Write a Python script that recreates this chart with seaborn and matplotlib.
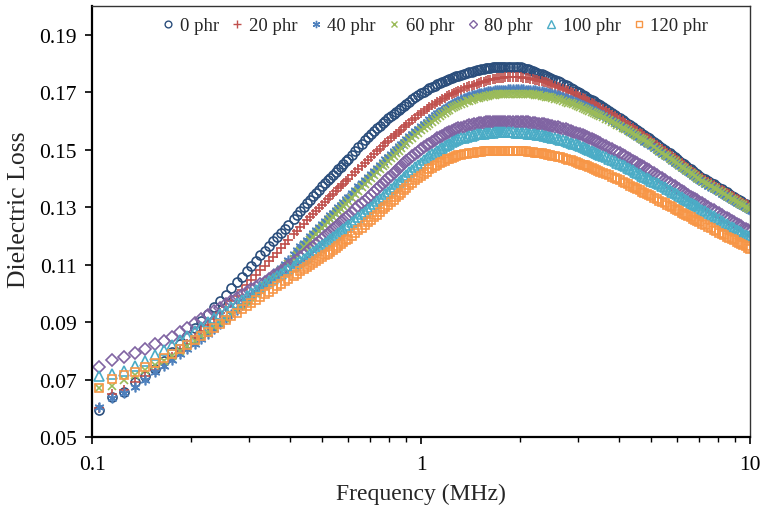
import numpy as np
import matplotlib
matplotlib.use("Agg")
import matplotlib.pyplot as plt
import seaborn as sns
from matplotlib.ticker import FixedLocator, FixedFormatter, NullFormatter

sns.set_style("ticks")
plt.rcParams["font.family"] = ["Liberation Serif", "DejaVu Serif"]

# Measurement frequencies (MHz)
FREQ_MHZ = [0.105, 0.115, 0.125, 0.135, 0.145, 0.155, 0.165, 0.175, 0.185, 0.195,
            0.205, 0.215, 0.225, 0.235, 0.245, 0.255, 0.265, 0.275, 0.285, 0.295,
            0.305, 0.315, 0.325, 0.335, 0.345, 0.355, 0.365, 0.375, 0.385, 0.395,
            0.41, 0.42, 0.43, 0.44, 0.45, 0.46, 0.47, 0.48, 0.49, 0.50,
            0.51, 0.52, 0.53, 0.54, 0.55, 0.56, 0.57, 0.58, 0.59, 0.60,
            0.615, 0.63, 0.645, 0.66, 0.675, 0.69, 0.705, 0.72, 0.735, 0.75,
            0.765, 0.78, 0.795, 0.81, 0.825, 0.84, 0.855, 0.87, 0.885, 0.90,
            0.92, 0.94, 0.96, 0.98, 1.00, 1.02, 1.04, 1.06, 1.08, 1.10,
            1.12, 1.14, 1.16, 1.18, 1.20, 1.22, 1.24, 1.26, 1.28, 1.30,
            1.325, 1.35, 1.375, 1.40, 1.425, 1.45, 1.475, 1.50, 1.525, 1.55,
            1.575, 1.60, 1.625, 1.65, 1.675, 1.70, 1.725, 1.75, 1.775, 1.80,
            1.835, 1.87, 1.905, 1.94, 1.975, 2.01, 2.045, 2.08, 2.115, 2.15,
            2.185, 2.22, 2.255, 2.29, 2.325, 2.36, 2.395, 2.43, 2.465, 2.50,
            2.55, 2.60, 2.65, 2.70, 2.75, 2.80, 2.85, 2.90, 2.95, 3.00,
            3.05, 3.10, 3.15, 3.20, 3.25, 3.30, 3.35, 3.40, 3.45, 3.50,
            3.575, 3.65, 3.725, 3.80, 3.875, 3.95, 4.025, 4.10, 4.175, 4.25,
            4.325, 4.40, 4.475, 4.55, 4.625, 4.70, 4.775, 4.85, 4.925, 5.00,
            5.1, 5.2, 5.3, 5.4, 5.5, 5.6, 5.7, 5.8, 5.9, 6.0,
            6.1, 6.2, 6.3, 6.4, 6.5, 6.6, 6.7, 6.8, 6.9, 7.0,
            7.15, 7.3, 7.45, 7.6, 7.75, 7.9, 8.05, 8.2, 8.35, 8.5,
            8.65, 8.8, 8.95, 9.1, 9.25, 9.4, 9.55, 9.7, 9.85, 10.0]

# Dielectric loss values, in units of 1e-4
LOSS_0 = [593, 640, 656, 690, 712, 738, 765, 795, 823, 852,
          878, 903, 927, 952, 973, 995, 1017, 1038, 1058, 1077,
          1096, 1114, 1132, 1149, 1165, 1181, 1196, 1211, 1225, 1239,
          1259, 1272, 1286, 1300, 1313, 1325, 1338, 1350, 1361, 1372,
          1383, 1393, 1403, 1413, 1423, 1432, 1441, 1450, 1459, 1467,
          1481, 1495, 1508, 1520, 1532, 1543, 1554, 1564, 1574, 1583,
          1592, 1601, 1609, 1617, 1625, 1632, 1639, 1646, 1653, 1659,
          1667, 1675, 1682, 1689, 1696, 1702, 1708, 1713, 1718, 1723,
          1728, 1732, 1736, 1740, 1744, 1747, 1750, 1753, 1756, 1758,
          1761, 1764, 1767, 1769, 1772, 1774, 1776, 1778, 1780, 1781,
          1783, 1784, 1785, 1786, 1787, 1788, 1789, 1789, 1789, 1789,
          1789, 1789, 1789, 1788, 1787, 1786, 1784, 1782, 1780, 1777,
          1774, 1771, 1768, 1765, 1762, 1759, 1756, 1753, 1750, 1747,
          1743, 1738, 1734, 1729, 1725, 1720, 1715, 1710, 1705, 1700,
          1696, 1691, 1686, 1681, 1677, 1672, 1668, 1663, 1659, 1654,
          1648, 1641, 1635, 1628, 1622, 1615, 1609, 1603, 1597, 1591,
          1585, 1579, 1573, 1567, 1562, 1556, 1551, 1545, 1540, 1534,
          1527, 1520, 1513, 1506, 1500, 1493, 1487, 1480, 1474, 1467,
          1461, 1455, 1449, 1443, 1437, 1431, 1426, 1420, 1415, 1409,
          1403, 1397, 1391, 1385, 1379, 1373, 1368, 1362, 1357, 1351,
          1346, 1340, 1335, 1330, 1325, 1320, 1316, 1311, 1307, 1302]

LOSS_20 = [600, 648, 662, 693, 712, 732, 754, 777, 800, 823,
           846, 868, 890, 911, 932, 952, 972, 991, 1010, 1028,
           1046, 1063, 1080, 1096, 1112, 1127, 1142, 1157, 1171, 1185,
           1205, 1218, 1230, 1242, 1254, 1265, 1276, 1287, 1298, 1308,
           1318, 1328, 1338, 1347, 1356, 1365, 1374, 1382, 1391, 1399,
           1411, 1422, 1433, 1444, 1455, 1465, 1475, 1485, 1495, 1504,
           1513, 1522, 1531, 1539, 1547, 1555, 1563, 1570, 1578, 1585,
           1594, 1603, 1611, 1619, 1627, 1634, 1641, 1648, 1654, 1660,
           1666, 1671, 1676, 1681, 1686, 1690, 1694, 1698, 1702, 1705,
           1709, 1713, 1717, 1720, 1723, 1726, 1729, 1732, 1735, 1737,
           1739, 1741, 1743, 1745, 1747, 1748, 1749, 1750, 1751, 1752,
           1753, 1753, 1753, 1753, 1753, 1752, 1751, 1750, 1749, 1747,
           1746, 1744, 1742, 1740, 1738, 1736, 1734, 1731, 1729, 1726,
           1723, 1719, 1716, 1712, 1708, 1704, 1700, 1696, 1692, 1688,
           1684, 1680, 1676, 1671, 1667, 1662, 1658, 1653, 1649, 1645,
           1640, 1634, 1628, 1622, 1616, 1610, 1605, 1599, 1593, 1587,
           1582, 1576, 1570, 1564, 1559, 1553, 1548, 1542, 1537, 1531,
           1524, 1517, 1510, 1503, 1497, 1490, 1484, 1477, 1471, 1465,
           1459, 1453, 1447, 1441, 1435, 1429, 1424, 1418, 1413, 1407,
           1401, 1395, 1389, 1383, 1377, 1371, 1366, 1360, 1355, 1349,
           1344, 1339, 1334, 1329, 1324, 1319, 1315, 1310, 1306, 1301]

LOSS_40 = [604, 637, 652, 674, 700, 725, 748, 768, 788, 806,
           824, 842, 860, 877, 894, 911, 927, 943, 959, 975,
           990, 1005, 1020, 1034, 1048, 1062, 1076, 1089, 1102, 1115,
           1136, 1150, 1163, 1175, 1187, 1199, 1210, 1221, 1232, 1242,
           1252, 1262, 1272, 1281, 1291, 1300, 1309, 1318, 1327, 1335,
           1348, 1360, 1372, 1384, 1395, 1406, 1417, 1427, 1437, 1447,
           1457, 1466, 1476, 1485, 1494, 1503, 1512, 1520, 1528, 1536,
           1546, 1555, 1564, 1573, 1582, 1590, 1598, 1605, 1612, 1619,
           1626, 1632, 1638, 1643, 1648, 1653, 1658, 1662, 1666, 1670,
           1675, 1679, 1683, 1686, 1689, 1691, 1694, 1696, 1698, 1700,
           1702, 1703, 1704, 1705, 1706, 1707, 1708, 1708, 1709, 1709,
           1710, 1710, 1710, 1710, 1710, 1710, 1710, 1709, 1709, 1708,
           1707, 1706, 1705, 1704, 1703, 1701, 1700, 1698, 1697, 1695,
           1692, 1689, 1686, 1683, 1680, 1677, 1674, 1670, 1667, 1663,
           1660, 1656, 1652, 1648, 1644, 1640, 1636, 1632, 1628, 1624,
           1619, 1613, 1607, 1601, 1595, 1589, 1584, 1578, 1572, 1566,
           1561, 1555, 1550, 1544, 1539, 1533, 1528, 1523, 1518, 1513,
           1506, 1499, 1493, 1486, 1480, 1473, 1467, 1461, 1455, 1449,
           1443, 1437, 1432, 1426, 1421, 1415, 1410, 1404, 1399, 1394,
           1388, 1381, 1375, 1369, 1364, 1358, 1353, 1347, 1342, 1336,
           1331, 1326, 1321, 1316, 1312, 1307, 1303, 1298, 1294, 1290]

LOSS_60 = [670, 678, 700, 717, 732, 749, 766, 783, 800, 817,
           834, 850, 866, 882, 897, 912, 927, 942, 957, 971,
           985, 999, 1013, 1026, 1039, 1052, 1065, 1077, 1089, 1101,
           1121, 1135, 1148, 1160, 1172, 1184, 1195, 1206, 1217, 1227,
           1237, 1247, 1257, 1266, 1276, 1285, 1294, 1303, 1312, 1320,
           1333, 1345, 1357, 1369, 1380, 1391, 1402, 1412, 1422, 1432,
           1442, 1451, 1461, 1470, 1479, 1488, 1497, 1506, 1515, 1523,
           1533, 1542, 1551, 1559, 1567, 1575, 1583, 1590, 1597, 1604,
           1611, 1617, 1623, 1629, 1634, 1639, 1644, 1648, 1652, 1656,
           1660, 1664, 1668, 1671, 1674, 1676, 1679, 1681, 1683, 1685,
           1687, 1688, 1689, 1690, 1691, 1692, 1693, 1693, 1694, 1694,
           1695, 1695, 1695, 1695, 1695, 1695, 1695, 1694, 1694, 1693,
           1692, 1691, 1690, 1689, 1688, 1686, 1685, 1683, 1682, 1680,
           1678, 1675, 1673, 1670, 1667, 1664, 1661, 1658, 1655, 1652,
           1649, 1645, 1642, 1638, 1635, 1631, 1628, 1624, 1621, 1617,
           1612, 1607, 1602, 1597, 1592, 1587, 1582, 1577, 1572, 1567,
           1562, 1557, 1552, 1547, 1542, 1537, 1532, 1527, 1523, 1518,
           1511, 1503, 1497, 1490, 1483, 1477, 1471, 1465, 1459, 1453,
           1447, 1441, 1436, 1430, 1425, 1419, 1414, 1408, 1403, 1398,
           1392, 1385, 1379, 1373, 1368, 1362, 1357, 1351, 1346, 1340,
           1335, 1330, 1325, 1320, 1316, 1311, 1307, 1302, 1298, 1294]

LOSS_80 = [743, 768, 778, 792, 806, 823, 835, 848, 865, 881,
           896, 910, 924, 937, 950, 962, 974, 985, 995, 1005,
           1014, 1023, 1032, 1041, 1050, 1059, 1068, 1077, 1086, 1095,
           1108, 1117, 1126, 1135, 1144, 1153, 1162, 1171, 1180, 1189,
           1198, 1206, 1215, 1223, 1231, 1239, 1247, 1255, 1263, 1270,
           1281, 1292, 1303, 1313, 1323, 1333, 1343, 1353, 1363, 1372,
           1382, 1391, 1400, 1409, 1418, 1427, 1436, 1444, 1452, 1460,
           1469, 1477, 1485, 1493, 1501, 1508, 1515, 1521, 1527, 1533,
           1539, 1544, 1549, 1553, 1557, 1561, 1565, 1568, 1571, 1574,
           1577, 1580, 1583, 1585, 1587, 1589, 1591, 1592, 1593, 1594,
           1595, 1596, 1597, 1597, 1598, 1598, 1598, 1598, 1598, 1598,
           1598, 1598, 1598, 1598, 1598, 1597, 1597, 1596, 1595, 1594,
           1593, 1592, 1591, 1590, 1589, 1588, 1587, 1585, 1584, 1582,
           1580, 1578, 1576, 1573, 1571, 1568, 1565, 1562, 1559, 1556,
           1553, 1550, 1547, 1543, 1540, 1536, 1533, 1529, 1526, 1522,
           1517, 1512, 1507, 1502, 1497, 1492, 1487, 1482, 1477, 1472,
           1467, 1462, 1457, 1452, 1447, 1442, 1438, 1433, 1429, 1424,
           1418, 1412, 1406, 1400, 1395, 1389, 1384, 1378, 1373, 1367,
           1362, 1357, 1352, 1347, 1342, 1337, 1333, 1328, 1324, 1319,
           1313, 1306, 1300, 1294, 1289, 1283, 1278, 1272, 1267, 1262,
           1257, 1252, 1247, 1242, 1238, 1233, 1229, 1224, 1220, 1215]

LOSS_100 = [712, 718, 730, 748, 765, 785, 803, 820, 837, 853,
            869, 884, 899, 913, 927, 940, 953, 966, 978, 990,
            1001, 1012, 1022, 1032, 1042, 1051, 1060, 1069, 1077, 1085,
            1096, 1104, 1112, 1120, 1128, 1136, 1144, 1152, 1160, 1167,
            1175, 1182, 1189, 1196, 1203, 1210, 1217, 1224, 1231, 1237,
            1247, 1256, 1266, 1275, 1284, 1293, 1302, 1311, 1320, 1328,
            1337, 1345, 1354, 1362, 1371, 1379, 1388, 1396, 1404, 1412,
            1421, 1430, 1439, 1447, 1455, 1463, 1470, 1477, 1484, 1490,
            1496, 1502, 1507, 1512, 1517, 1521, 1525, 1529, 1533, 1536,
            1539, 1542, 1545, 1547, 1549, 1551, 1553, 1554, 1555, 1556,
            1557, 1558, 1559, 1559, 1560, 1560, 1560, 1560, 1560, 1560,
            1560, 1560, 1560, 1559, 1559, 1558, 1558, 1557, 1556, 1555,
            1554, 1553, 1552, 1551, 1550, 1548, 1547, 1545, 1544, 1542,
            1540, 1537, 1535, 1532, 1530, 1527, 1524, 1521, 1518, 1515,
            1512, 1509, 1506, 1502, 1499, 1495, 1492, 1488, 1485, 1481,
            1477, 1473, 1469, 1464, 1460, 1455, 1451, 1446, 1442, 1437,
            1433, 1428, 1424, 1419, 1415, 1410, 1406, 1401, 1397, 1392,
            1388, 1384, 1379, 1374, 1369, 1364, 1359, 1354, 1349, 1344,
            1339, 1334, 1330, 1325, 1321, 1316, 1312, 1307, 1303, 1298,
            1291, 1285, 1279, 1273, 1268, 1262, 1257, 1251, 1246, 1241,
            1236, 1231, 1226, 1221, 1217, 1212, 1208, 1203, 1199, 1195]

LOSS_120 = [672, 703, 715, 727, 743, 759, 775, 790, 806, 821,
            836, 851, 866, 880, 894, 907, 920, 932, 944, 955,
            966, 976, 986, 996, 1006, 1015, 1024, 1033, 1042, 1050,
            1061, 1069, 1077, 1084, 1091, 1098, 1105, 1112, 1119, 1125,
            1132, 1138, 1145, 1151, 1158, 1164, 1171, 1177, 1184, 1190,
            1200, 1209, 1219, 1228, 1238, 1247, 1256, 1265, 1274, 1283,
            1292, 1300, 1309, 1317, 1326, 1334, 1342, 1350, 1358, 1366,
            1376, 1385, 1394, 1402, 1410, 1417, 1424, 1431, 1437, 1443,
            1448, 1453, 1458, 1462, 1466, 1469, 1472, 1475, 1478, 1480,
            1482, 1484, 1486, 1487, 1489, 1490, 1491, 1492, 1493, 1494,
            1495, 1495, 1496, 1496, 1497, 1497, 1497, 1497, 1497, 1497,
            1497, 1497, 1497, 1496, 1496, 1495, 1495, 1494, 1493, 1492,
            1491, 1490, 1489, 1488, 1487, 1485, 1484, 1482, 1481, 1479,
            1477, 1475, 1473, 1470, 1468, 1465, 1463, 1460, 1457, 1454,
            1451, 1448, 1445, 1442, 1439, 1436, 1433, 1430, 1427, 1424,
            1420, 1415, 1411, 1406, 1402, 1397, 1393, 1388, 1384, 1379,
            1375, 1370, 1366, 1362, 1358, 1354, 1350, 1346, 1342, 1338,
            1333, 1328, 1323, 1318, 1313, 1308, 1304, 1299, 1295, 1290,
            1286, 1281, 1277, 1272, 1268, 1264, 1260, 1256, 1252, 1248,
            1243, 1237, 1232, 1226, 1221, 1216, 1211, 1206, 1202, 1197,
            1193, 1188, 1184, 1179, 1175, 1171, 1167, 1163, 1159, 1155]

SERIES_NAMES = ["0 phr", "20 phr", "40 phr", "60 phr", "80 phr", "100 phr", "120 phr"]
SERIES_LOSS = [LOSS_0, LOSS_20, LOSS_40, LOSS_60, LOSS_80, LOSS_100, LOSS_120]

X_TICKS = [0.1, 1, 10]
X_TICK_LABELS = ["0.1", "1", "10"]
Y_TICKS = [0.05, 0.07, 0.09, 0.11, 0.13, 0.15, 0.17, 0.19]
Y_TICK_LABELS = ["0.05", "0.07", "0.09", "0.11", "0.13", "0.15", "0.17", "0.19"]

COLORS = ["#2B4E7C", "#C0504D", "#4F81BD", "#9BBB59", "#8064A2", "#4BACC6", "#F79646"]
MARKERS = ["o", "+", (6, 2, 0), "x", "D", "^", "s"]
SIZES = [6.5, 7.0, 7.0, 6.0, 6.0, 6.8, 6.0]

fig = plt.figure(figsize=(7.6, 5.1), dpi=100)
ax = fig.add_axes([92 / 760, 72 / 510, 658 / 760, 431 / 510])

freq = np.array(FREQ_MHZ)
for name, loss, c, m, s in zip(SERIES_NAMES, SERIES_LOSS, COLORS, MARKERS, SIZES):
    y = np.array(loss) / 1e4
    sns.lineplot(x=freq, y=y, ax=ax, estimator=None, sort=False,
                 linestyle="", marker=m, markersize=s,
                 markerfacecolor="none", markeredgecolor=c,
                 markeredgewidth=1.2, color=c, label=name)

ax.set_xscale("log")
ax.set_xlim(0.1, 10)
ax.set_ylim(0.05, 0.20)
ax.xaxis.set_major_locator(FixedLocator(X_TICKS))
ax.xaxis.set_major_formatter(FixedFormatter(X_TICK_LABELS))
minor = [m * d for d in (0.1, 1) for m in range(2, 10)]
ax.xaxis.set_minor_locator(FixedLocator(minor))
ax.xaxis.set_minor_formatter(NullFormatter())
ax.yaxis.set_major_locator(FixedLocator(Y_TICKS))
ax.yaxis.set_major_formatter(FixedFormatter(Y_TICK_LABELS))

ax.tick_params(axis="both", which="major", direction="out", length=5, width=1.2,
               labelsize=15.5, color="black", labelcolor="black", pad=6)
ax.tick_params(axis="x", which="minor", direction="out", length=3.5, width=1.0, color="black")
ax.tick_params(axis="x", which="major", pad=8)

for side in ["left", "bottom"]:
    ax.spines[side].set_linewidth(1.6)
    ax.spines[side].set_color("black")
for side in ["top", "right"]:
    ax.spines[side].set_visible(True)
    ax.spines[side].set_linewidth(1.0)
    ax.spines[side].set_color("#333333")

ax.set_xlabel("Frequency (MHz)", fontsize=17, labelpad=6)
ax.set_ylabel("Dielectric Loss", fontsize=18.5)
ax.yaxis.set_label_coords(-0.094, 0.529)

leg = ax.legend(loc="center", bbox_to_anchor=(0.522, 0.954), ncol=7, frameon=False,
                fontsize=13.5, markerscale=0.75, handlelength=0.6, handletextpad=0.3,
                columnspacing=0.7, borderaxespad=0)
for h in leg.legend_handles:
    h.set_markeredgewidth(1.0)

fig.savefig("out.png", dpi=100)
